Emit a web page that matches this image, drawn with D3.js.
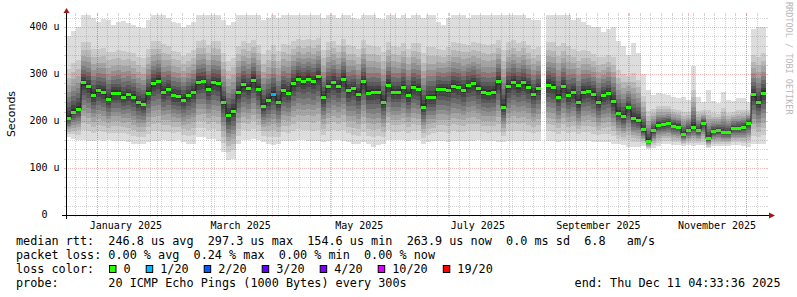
<!DOCTYPE html>
<html><head><meta charset="utf-8">
<script src="https://cdn.jsdelivr.net/npm/d3@7"></script>
<style>
html,body{margin:0;padding:0;background:#fff;}
svg{display:block;}
text{white-space:pre;}
</style></head>
<body><svg id="chart" width="797" height="297" xml:space="preserve"></svg>
<script>
// ---- data (values in microseconds), one entry per consolidated column ----
const median = [207,220,226,282,275,255,266,262,246,260,
 260,252,257,252,240,236,260,280,286,262,
 268,255,253,245,255,262,283,285,268,282,
 280,240,212,222,262,278,270,288,268,232,
 245,258,240,265,260,280,290,285,290,285,
 295,250,275,283,275,290,265,270,258,285,
 260,262,262,240,277,262,262,272,255,272,
 268,230,250,250,268,268,266,275,272,265,
 276,280,270,262,260,262,285,230,275,284,
 276,282,273,258,270,null,277,273,252,275,
 255,262,240,262,264,258,240,255,260,242,
 218,210,229,206,203,182,158,180,192,193,
 196,190,188,172,181,188,180,196,163,178,
 180,176,176,185,185,187,196,257,240,260];
const pingMax = [380,392,400,425,430,420,410,418,415,405,
 410,412,408,405,400,398,415,430,425,430,
 420,410,408,400,405,410,430,430,425,430,
 430,415,405,410,425,430,430,430,425,415,
 420,430,420,430,430,430,430,430,430,430,
 430,420,430,430,420,430,425,420,418,430,
 430,425,420,418,430,425,420,430,420,430,
 430,420,430,430,410,405,420,430,430,430,
 420,425,430,430,430,430,430,430,430,430,
 425,430,420,415,415,null,430,430,430,425,
 430,415,420,410,405,400,400,390,395,400,
 370,360,340,365,345,300,265,255,260,258,
 255,250,248,250,245,318,250,240,265,242,
 238,262,245,242,248,248,240,395,400,400];
const pingMin = [165,162,160,160,158,158,160,158,160,158,
 158,158,155,150,150,152,155,158,158,160,
 158,158,160,155,150,152,165,165,162,162,
 158,135,118,120,150,160,160,162,160,155,
 150,148,150,158,158,158,160,160,158,158,
 158,155,158,160,160,158,155,150,150,155,
 150,145,148,150,160,160,160,160,158,160,
 160,150,155,158,158,158,156,158,158,158,
 158,158,160,158,158,158,155,155,158,158,
 158,158,158,158,158,null,158,158,156,158,
 158,158,158,158,158,156,155,155,155,152,
 150,148,145,145,145,146,140,142,146,150,
 150,148,148,146,148,146,148,148,142,146,
 146,146,146,148,148,146,144,150,150,152];
const lossPings = [0,0,0,0,0,0,0,0,0,0, 0,0,0,0,0,0,0,0,0,0, 0,0,0,0,0,0,0,0,0,0,
 0,0,0,0,0,0,0,0,0,0, 0,1,0,0,0,0,0,0,0,0, 0,0,0,0,0,0,0,0,0,0, 0,0,0,0,0,0,0,0,0,0,
 0,0,0,0,0,0,0,0,0,0, 0,0,0,0,0,0,0,0,0,0, 0,0,0,0,0,0,0,0,0,0, 0,0,0,0,0,0,0,0,0,0,
 0,0,0,0,0,0,0,0,0,0, 0,0,0,0,0,0,0,0,0,0, 0,0,0,0,0,0,0,0,0,0];
const yTicks = [0,100,200,300,400];
const lossThresh = [0,1,2,3,4,10,19];
const lossLabels = ["0","1/20","2/20","3/20","4/20","10/20","19/20"];
const lossColors = ["#26ff00","#00b8ff","#0059ff","#5e00ff","#7e00ff","#dd00ff","#ff0000"];
const legendLines = [
 "median rtt:  246.8 us avg  297.3 us max  154.6 us min  263.9 us now  0.0 ms sd  6.8   am/s",
 "packet loss: 0.00 % avg  0.24 % max  0.00 % min  0.00 % now",
 "loss color:",
 "probe:       20 ICMP Echo Pings (1000 Bytes) every 300s"];
const endLabel = "end: Thu Dec 11 04:33:36 2025";

// ---- layout ----
const x0 = 66, x1 = 766, yTop = 15, yBot = 215;
const endT = Date.UTC(2025, 11, 11, 4, 33, 36);
const spanMs = 360 * 864e5;
const startT = endT - spanMs;
const x = d3.scaleUtc().domain([new Date(startT), new Date(endT)]).range([x0, x1]);
const y = d3.scaleLinear().domain([0, 425.5]).range([yBot, yTop]);
const colMs = spanMs / median.length;
const cols = median.map((m, i) => ({i, t0: new Date(startT + i*colMs), t1: new Date(startT + (i+1)*colMs),
  med: m, lo: pingMin[i], hi: pingMax[i], loss: lossPings[i]}));
const valid = cols.filter(c => c.med != null);

const svg = d3.select("#chart");
svg.append("rect").attr("width", 797).attr("height", 297).attr("fill", "#fff");
svg.append("defs").append("clipPath").attr("id", "plot")
  .append("rect").attr("x", x0).attr("y", yTop).attr("width", x1 - x0).attr("height", yBot - yTop);
const plot = svg.append("g").attr("clip-path", "url(#plot)");

// smoke bands (smokeping style: outer pings lightest, inner darkest)
const fU = [1, .6, .49, .4, .32, .25, .19, .13, .08, .035];
const fL = [1, .83, .7, .59, .49, .4, .31, .22, .14, .06];
for (let k = 0; k < 10; k++) {
  const v = Math.floor(19 * (10 - (k + 1))) + 50;
  plot.append("g").attr("shape-rendering", "crispEdges").selectAll("rect").data(valid).join("rect")
    .attr("x", d => x(d.t0)).attr("width", d => x(d.t1) - x(d.t0))
    .attr("y", d => y(d.med + (d.hi - d.med) * fU[k]))
    .attr("height", d => y(d.med - (d.med - d.lo) * fL[k]) - y(d.med + (d.hi - d.med) * fU[k]))
    .attr("fill", d3.rgb(v, v, v));
}

// grid
const grid = svg.append("g");
const minorCol = "rgba(120,120,120,0.32)", majorCol = "rgba(215,40,40,0.32)";
const jan1 = Date.UTC(2025, 0, 1), minorStep = 5.475 * 864e5;
const minorTimes = [];
for (let t = jan1 - 3 * minorStep; t < endT; t += minorStep) if (t > startT) minorTimes.push(new Date(t));
const monthTimes = d3.utcMonth.range(new Date(startT), new Date(endT));
function vline(t, col) {
  const xx = Math.round(x(t)) + 0.5;
  grid.append("line").attr("x1", xx).attr("x2", xx).attr("y1", yTop).attr("y2", yBot)
    .attr("stroke", col).attr("stroke-dasharray", "1,1");
  grid.append("line").attr("x1", xx).attr("x2", xx).attr("y1", yBot).attr("y2", yBot + 2).attr("stroke", col);
  grid.append("line").attr("x1", xx).attr("x2", xx).attr("y1", yTop - 2).attr("y2", yTop).attr("stroke", col);
}
function hline(v, col) {
  const yy = Math.round(y(v)) + 0.5;
  grid.append("line").attr("x1", x0).attr("x2", x1).attr("y1", yy).attr("y2", yy)
    .attr("stroke", col).attr("stroke-dasharray", "1,1");
  grid.append("line").attr("x1", x0 - 2).attr("x2", x0).attr("y1", yy).attr("y2", yy).attr("stroke", col);
  grid.append("line").attr("x1", x1).attr("x2", x1 + 2).attr("y1", yy).attr("y2", yy).attr("stroke", col);
}
minorTimes.forEach(t => vline(t, minorCol));
d3.range(20, 425, 20).filter(v => v % 100 !== 0).forEach(v => hline(v, minorCol));
monthTimes.forEach(t => vline(t, majorCol));
yTicks.filter(v => v > 0).forEach(v => hline(v, majorCol));

// median line + loss-coloured median blocks
const pts = cols.flatMap(c => c.med == null ? [{gap: true}] : [{t: c.t0, v: c.med}, {t: c.t1, v: c.med}]);
plot.append("path").attr("d", d3.line().defined(d => !d.gap).x(d => x(d.t)).y(d => Math.round(y(d.v)) + 0.5)(pts))
  .attr("fill", "none").attr("stroke", "#202020").attr("stroke-width", 1);
const lossIdx = n => { let j = 0; lossThresh.forEach((t, i) => { if (n >= t) j = i; }); return j; };
plot.append("g").attr("shape-rendering", "crispEdges").selectAll("rect").data(valid).join("rect")
  .attr("x", d => x(d.t0)).attr("width", d => x(d.t1) - x(d.t0))
  .attr("y", d => Math.round(y(d.med)) - 1).attr("height", 3)
  .attr("fill", d => lossColors[lossIdx(d.loss)]);

// axes
const ax = svg.append("g");
ax.append("line").attr("x1", 62).attr("x2", 770).attr("y1", yBot + 0.5).attr("y2", yBot + 0.5).attr("stroke", "#000");
ax.append("line").attr("x1", x0 + 0.5).attr("x2", x0 + 0.5).attr("y1", 219).attr("y2", 12).attr("stroke", "#000");
ax.append("path").attr("d", `M${x0 + 0.5},8 L${x0 + 3.5},13 L${x0 - 2.5},13 Z`).attr("fill", "#a01818");
ax.append("path").attr("d", `M775,${yBot + 0.5} L769,${yBot - 2.5} L769,${yBot + 3.5} Z`).attr("fill", "#a01818");

const mono = "'DejaVu Sans Mono', monospace";
// y tick labels
svg.append("g").selectAll("text").data(yTicks).join("text")
  .attr("x", d => d === 0 ? 59.6 - 12.04 : 59.6).attr("y", d => y(d) + 3)
  .attr("text-anchor", "end").attr("font-family", mono).attr("font-size", "10px").attr("fill", "#000")
  .text(d => d === 0 ? "0" : d + " u");
// x labels (every 2nd month, centred half a month in)
const labelMonths = d3.utcMonth.every(2).range(new Date(startT), new Date(endT));
svg.append("g").selectAll("text").data(labelMonths).join("text")
  .attr("x", d => x(new Date(+d + 15 * 864e5))).attr("y", 228.5)
  .attr("text-anchor", "middle").attr("font-family", mono).attr("font-size", "10px").attr("fill", "#000")
  .text(d => d3.utcFormat("%B %Y")(d));
// y axis title
svg.append("text").attr("transform", "translate(14.5,114) rotate(-90)").attr("text-anchor", "middle")
  .attr("font-family", "'DejaVu Sans', sans-serif").attr("font-size", "11px").attr("fill", "#000").text("Seconds");
// watermark
svg.append("text").attr("transform", "translate(786,2) rotate(90)")
  .attr("font-family", mono).attr("font-size", "8.5px").attr("fill", "#b8b8b8").text("RRDTOOL / TOBI OETIKER");

// legend
const lg = svg.append("g").attr("font-family", mono).attr("font-size", "11.8px").attr("fill", "#000");
legendLines.forEach((s, i) => lg.append("text").attr("x", 16).attr("y", 245 + i * 14).text(s));
lg.append("text").attr("x", 780.5).attr("y", 287).attr("text-anchor", "end").text(endLabel);
let lx = 109;
lossLabels.forEach((lab, i) => {
  lg.append("rect").attr("x", lx + 0.5).attr("y", 265.5).attr("width", 6.5).attr("height", 7)
    .attr("fill", lossColors[i]).attr("stroke", "#000").attr("stroke-width", 1);
  lg.append("text").attr("x", lx + 14.5).attr("y", 273).text(lab);
  lx += 29.6 + lab.length * 7.1;
});
</script>
</body></html>
